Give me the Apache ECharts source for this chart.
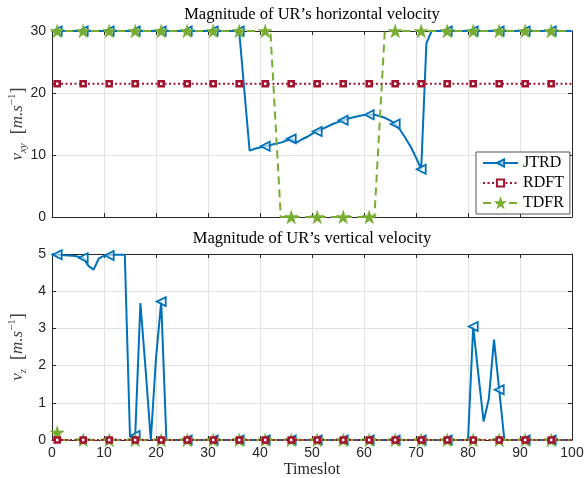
<!DOCTYPE html>
<html>
<head>
<meta charset="utf-8">
<script src="https://cdn.jsdelivr.net/npm/echarts@6/dist/echarts.min.js"></script>
<style>
  html, body { margin: 0; padding: 0; background: #fff; }
  #chart { width: 584px; height: 478px; }
</style>
</head>
<body>
<div id="chart"></div>
<script>
  // timeslot index = position in the arrays (0..100)
  var markerSlots = [1, 6, 11, 16, 21, 26, 31, 36, 41, 46, 51, 56, 61, 66, 71, 76, 81, 86, 91, 96];

  // horizontal velocity (top)
  var jtrdHoriz = [
    30, 30, 30, 30, 30, 30, 30, 30, 30, 30,
    30, 30, 30, 30, 30, 30, 30, 30, 30, 30,
    30, 30, 30, 30, 30, 30, 30, 30, 30, 30,
    30, 30, 30, 30, 30, 30, 30, 20.3, 10.7, 11.0,
    11.2, 11.4, 11.6, 11.8, 12.0, 12.3, 12.6, 12.0, 12.5, 12.9,
    13.4, 13.8, 14.2, 14.6, 15.0, 15.3, 15.6, 15.9, 16.1, 16.3,
    16.45, 16.5, 16.5, 16.3, 16.0, 15.6, 15.0, 14.0, 12.7, 11.3,
    9.6, 7.7, 28.0, 30, 30, 30, 30, 30, 30, 30,
    30, 30, 30, 30, 30, 30, 30, 30, 30, 30,
    30, 30, 30, 30, 30, 30, 30, 30, 30, 30,
    30
  ];
  var rdftHoriz = [
    21.5, 21.5, 21.5, 21.5, 21.5, 21.5, 21.5, 21.5, 21.5, 21.5,
    21.5, 21.5, 21.5, 21.5, 21.5, 21.5, 21.5, 21.5, 21.5, 21.5,
    21.5, 21.5, 21.5, 21.5, 21.5, 21.5, 21.5, 21.5, 21.5, 21.5,
    21.5, 21.5, 21.5, 21.5, 21.5, 21.5, 21.5, 21.5, 21.5, 21.5,
    21.5, 21.5, 21.5, 21.5, 21.5, 21.5, 21.5, 21.5, 21.5, 21.5,
    21.5, 21.5, 21.5, 21.5, 21.5, 21.5, 21.5, 21.5, 21.5, 21.5,
    21.5, 21.5, 21.5, 21.5, 21.5, 21.5, 21.5, 21.5, 21.5, 21.5,
    21.5, 21.5, 21.5, 21.5, 21.5, 21.5, 21.5, 21.5, 21.5, 21.5,
    21.5, 21.5, 21.5, 21.5, 21.5, 21.5, 21.5, 21.5, 21.5, 21.5,
    21.5, 21.5, 21.5, 21.5, 21.5, 21.5, 21.5, 21.5, 21.5, 21.5,
    21.5
  ];
  var tdfrHoriz = [
    30, 30, 30, 30, 30, 30, 30, 30, 30, 30,
    30, 30, 30, 30, 30, 30, 30, 30, 30, 30,
    30, 30, 30, 30, 30, 30, 30, 30, 30, 30,
    30, 30, 30, 30, 30, 30, 30, 30, 30, 30,
    30, 30, 30, 15, 0, 0, 0, 0, 0, 0,
    0, 0, 0, 0, 0, 0, 0, 0, 0, 0,
    0, 0, 0, 15, 30, 30, 30, 30, 30, 30,
    30, 30, 30, 30, 30, 30, 30, 30, 30, 30,
    30, 30, 30, 30, 30, 30, 30, 30, 30, 30,
    30, 30, 30, 30, 30, 30, 30, 30, 30, 30,
    30
  ];

  // vertical velocity (bottom)
  var jtrdVert = [
    5.0, 4.98, 4.97, 4.96, 4.95, 4.93, 4.9, 4.68, 4.58, 4.88,
    4.95, 4.96, 4.98, 4.98, 4.98, 0.08, 0.12, 3.68, 1.9, 0,
    2.2, 3.72, 0, 0, 0, 0, 0, 0, 0, 0,
    0, 0, 0, 0, 0, 0, 0, 0, 0, 0,
    0, 0, 0, 0, 0, 0, 0, 0, 0, 0,
    0, 0, 0, 0, 0, 0, 0, 0, 0, 0,
    0, 0, 0, 0, 0, 0, 0, 0, 0, 0,
    0, 0, 0, 0, 0, 0, 0, 0, 0, 0,
    0, 3.05, 1.75, 0.5, 1.1, 2.7, 1.35, 0, 0, 0,
    0, 0, 0, 0, 0, 0, 0, 0, 0, 0,
    0
  ];
  var rdftVert = [
    0, 0, 0, 0, 0, 0, 0, 0, 0, 0,
    0, 0, 0, 0, 0, 0, 0, 0, 0, 0,
    0, 0, 0, 0, 0, 0, 0, 0, 0, 0,
    0, 0, 0, 0, 0, 0, 0, 0, 0, 0,
    0, 0, 0, 0, 0, 0, 0, 0, 0, 0,
    0, 0, 0, 0, 0, 0, 0, 0, 0, 0,
    0, 0, 0, 0, 0, 0, 0, 0, 0, 0,
    0, 0, 0, 0, 0, 0, 0, 0, 0, 0,
    0, 0, 0, 0, 0, 0, 0, 0, 0, 0,
    0, 0, 0, 0, 0, 0, 0, 0, 0, 0,
    0
  ];
  var tdfrVert = [
    0.2, 0.2, 0, 0, 0, 0, 0, 0, 0, 0,
    0, 0, 0, 0, 0, 0, 0, 0, 0, 0,
    0, 0, 0, 0, 0, 0, 0, 0, 0, 0,
    0, 0, 0, 0, 0, 0, 0, 0, 0, 0,
    0, 0, 0, 0, 0, 0, 0, 0, 0, 0,
    0, 0, 0, 0, 0, 0, 0, 0, 0, 0,
    0, 0, 0, 0, 0, 0, 0, 0, 0, 0,
    0, 0, 0, 0, 0, 0, 0, 0, 0, 0,
    0, 0, 0, 0, 0, 0, 0, 0, 0, 0,
    0, 0, 0, 0, 0, 0, 0, 0, 0, 0,
    0
  ];

  var BLUE = "#0072BD", RED = "#A2142F", GREEN = "#77AC30";
  var AXIS = "#262626", GRIDC = "#e3e3e3";
  var SANS = "'Liberation Sans', Arial, sans-serif";
  var SERIF = "'Liberation Serif', 'Times New Roman', serif";
  var STAR = "path://M100 0 L122.45 69.1 L195.1 69.1 L136.3 111.8 L158.8 180.9 L100 138.2 L41.2 180.9 L63.7 111.8 L4.9 69.1 L77.55 69.1 Z";

  function toData(values) {
    return values.map(function(v, i) {
      if (markerSlots.indexOf(i) >= 0) return [i, v];
      return { value: [i, v], symbol: "none" };
    });
  }

  function jtrdSeries(values, idx) {
    return {
      name: "JTRD", type: "line", xAxisIndex: idx, yAxisIndex: idx,
      data: toData(values), symbol: "triangle", symbolSize: 9, symbolRotate: 90,
      showAllSymbol: true, animation: false, z: 2,
      lineStyle: { color: BLUE, width: 2 },
      itemStyle: { color: "rgba(255,255,255,0.6)", borderColor: BLUE, borderWidth: 1.8 }
    };
  }
  function tdfrSeries(values, idx) {
    return {
      name: "TDFR", type: "line", xAxisIndex: idx, yAxisIndex: idx,
      data: toData(values), symbol: STAR, symbolSize: 14, symbolKeepAspect: true,
      showAllSymbol: true, animation: false, z: 3,
      lineStyle: { color: GREEN, width: 2, type: [8, 5] },
      itemStyle: { color: GREEN, borderColor: GREEN, borderWidth: 0.5 }
    };
  }
  function rdftSeries(values, idx) {
    return {
      name: "RDFT", type: "line", xAxisIndex: idx, yAxisIndex: idx,
      data: toData(values), symbol: "rect", symbolSize: 5,
      showAllSymbol: true, animation: false, z: 4,
      lineStyle: { color: RED, width: 2, type: [2, 2.5] },
      itemStyle: { color: "#fff", borderColor: RED, borderWidth: 2.6 }
    };
  }

  function xAx(gi, pos, labels) {
    return {
      gridIndex: gi, type: "value", position: pos, min: 0, max: 100, interval: 10,
      axisLine: { show: true, onZero: false, lineStyle: { color: AXIS, width: 1 } },
      axisTick: { show: true, inside: true, length: 4, lineStyle: { color: AXIS } },
      axisLabel: { show: labels, color: AXIS, fontFamily: SANS, fontSize: 14, margin: 6 },
      splitLine: { show: pos === "bottom", lineStyle: { color: GRIDC, width: 1 } }
    };
  }
  function yAx(gi, pos, max, interval) {
    return {
      gridIndex: gi, type: "value", position: pos, min: 0, max: max, interval: interval,
      axisLine: { show: true, onZero: false, lineStyle: { color: AXIS, width: 1 } },
      axisTick: { show: true, inside: true, length: 4, lineStyle: { color: AXIS } },
      axisLabel: { show: pos === "left", color: AXIS, fontFamily: SANS, fontSize: 14, margin: 6 },
      splitLine: { show: pos === "left", lineStyle: { color: GRIDC, width: 1 } }
    };
  }

  var nameRich = {
    v: { fontFamily: SERIF, fontStyle: "italic", fontSize: 17, color: "#404040", lineHeight: 22 },
    sub: { fontFamily: SERIF, fontStyle: "italic", fontSize: 11, color: "#404040", lineHeight: 12, verticalAlign: "bottom" },
    n: { fontFamily: SERIF, fontSize: 18, color: "#404040", lineHeight: 22 },
    sup: { fontFamily: SERIF, fontSize: 11, color: "#404040", lineHeight: 12, verticalAlign: "top" }
  };

  var chart = echarts.init(document.getElementById("chart"));
  var yTop = yAx(0, "left", 30, 10);
  yTop.name = "{v|v}{sub|xy}{n|  [}{v|m.s}{sup|−1}{n|]}";
  yTop.nameLocation = "middle";
  yTop.nameGap = 23;
  yTop.nameMoveOverlap = false;
  yTop.nameTextStyle = { rich: nameRich };
  var yBot = yAx(1, "left", 5, 1);
  yBot.name = "{v|v}{sub|z}{n|  [}{v|m.s}{sup|−1}{n|]}";
  yBot.nameLocation = "middle";
  yBot.nameGap = 23;
  yBot.nameMoveOverlap = false;
  yBot.nameTextStyle = { rich: nameRich };
  var xBot = xAx(1, "bottom", true);
  xBot.name = "Timeslot";
  xBot.nameLocation = "middle";
  xBot.nameGap = 22;
  xBot.nameTextStyle = { fontFamily: SERIF, fontSize: 16, color: "#262626" };

  chart.setOption({
    backgroundColor: "#fff",
    animation: false,
    title: [
      { text: "Magnitude of UR\u2019s horizontal velocity", left: 312, top: 6, textAlign: "center", padding: 0,
        textStyle: { fontFamily: SERIF, fontSize: 16.5, fontWeight: "normal", color: "#000" } },
      { text: "Magnitude of UR\u2019s vertical velocity", left: 312, top: 230, textAlign: "center", padding: 0,
        textStyle: { fontFamily: SERIF, fontSize: 16.5, fontWeight: "normal", color: "#000" } }
    ],
    legend: {
      data: [
        { name: "JTRD", symbolRotate: 90 },
        { name: "RDFT" },
        { name: "TDFR" }
      ],
      symbolRotate: "inherit",
      orient: "vertical", left: 476, top: 152,
      padding: [3, 6], itemGap: 4, itemWidth: 35, itemHeight: 9,
      backgroundColor: "#fff", borderColor: "#555", borderWidth: 1, borderRadius: 0,
      textStyle: { fontFamily: SERIF, fontSize: 16, color: "#000", lineHeight: 14 }
    },
    grid: [
      { left: 52, right: 12, top: 31, height: 186, outerBoundsMode: "none" },
      { left: 52, right: 12, top: 254, height: 186, outerBoundsMode: "none" }
    ],
    xAxis: [xAx(0, "bottom", false), xBot, xAx(0, "top", false), xAx(1, "top", false)],
    yAxis: [yTop, yBot, yAx(0, "right", 30, 10), yAx(1, "right", 5, 1)],
    series: [
      jtrdSeries(jtrdHoriz, 0), tdfrSeries(tdfrHoriz, 0), rdftSeries(rdftHoriz, 0),
      jtrdSeries(jtrdVert, 1), tdfrSeries(tdfrVert, 1), rdftSeries(rdftVert, 1)
    ]
  });
</script>
</body>
</html>
